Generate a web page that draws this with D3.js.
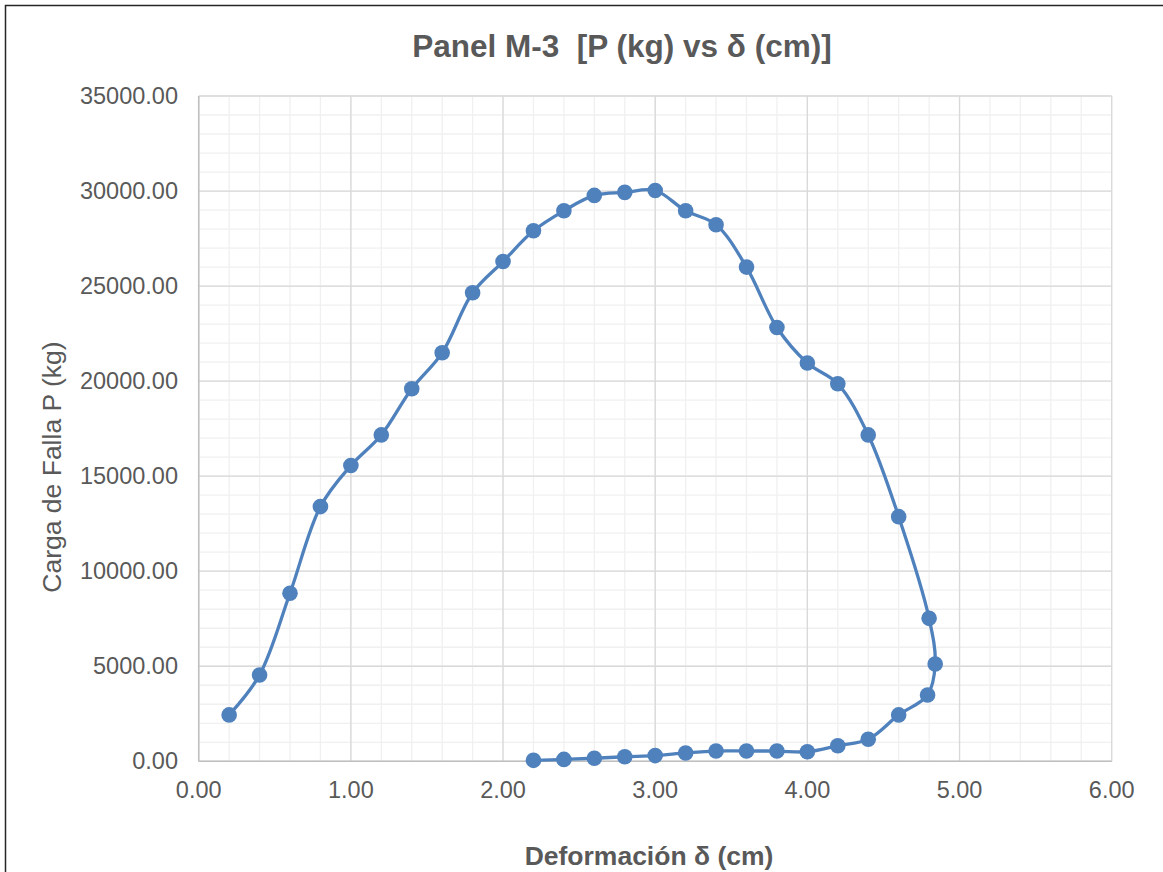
<!DOCTYPE html>
<html>
<head>
<meta charset="utf-8">
<script src="https://cdn.jsdelivr.net/npm/d3@7"></script>
<style>
  body { margin: 0; background: #fff; }
  svg { display: block; font-family: "Liberation Sans", Arial, sans-serif; }
</style>
</head>
<body>
<svg id="chart" width="1163" height="872"></svg>
<script>
// deformation (cm) and load (kg), in the order they were measured
var deformacion = [0.2, 0.4, 0.6, 0.8, 1.0, 1.2, 1.4, 1.6, 1.8, 2.0, 2.2, 2.4, 2.6, 2.8, 3.0,
                   3.2, 3.4, 3.6, 3.8, 4.0, 4.2, 4.4, 4.6, 4.8, 4.84, 4.79, 4.6, 4.4, 4.2, 4.0,
                   3.8, 3.6, 3.4, 3.2, 3.0, 2.8, 2.6, 2.4, 2.2];
var carga = [2440, 4540, 8840, 13400, 15560, 17170, 19600, 21490, 24650, 26290, 27910, 28960, 29770, 29930, 30030,
             28960, 28230, 26000, 22820, 20950, 19860, 17170, 12870, 7520, 5120, 3490, 2440, 1160, 820, 500,
             540, 540, 540, 440, 300, 240, 160, 100, 50];

var xTicks = [0, 1, 2, 3, 4, 5, 6];
var yTicks = [0, 5000, 10000, 15000, 20000, 25000, 30000, 35000];

var svg = d3.select("#chart");
var plotLeft = 198.7, plotRight = 1111.7, plotTop = 96, plotBottom = 761.3;

var x = d3.scaleLinear().domain([0, 6]).range([plotLeft, plotRight]);
var y = d3.scaleLinear().domain([0, 35000]).range([plotBottom, plotTop]);

// outer chart border (only top and left visible)
svg.append("rect")
    .attr("x", 5.5).attr("y", 5.5)
    .attr("width", 1200).attr("height", 900)
    .attr("fill", "none")
    .attr("stroke", "#262626")
    .attr("stroke-width", 1.5);

// minor grid
var g = svg.append("g");
g.selectAll(".mx")
    .data(d3.range(0, 6.001, 0.2))
  .enter().append("line")
    .attr("x1", function(d) { return x(d); })
    .attr("x2", function(d) { return x(d); })
    .attr("y1", plotTop).attr("y2", plotBottom)
    .attr("stroke", "#f0f0f0").attr("stroke-width", 1.3);
g.selectAll(".my")
    .data(d3.range(0, 35001, 1000))
  .enter().append("line")
    .attr("y1", function(d) { return y(d); })
    .attr("y2", function(d) { return y(d); })
    .attr("x1", plotLeft).attr("x2", plotRight)
    .attr("stroke", "#f0f0f0").attr("stroke-width", 1.3);

// major grid
g.selectAll(".Mx")
    .data(xTicks)
  .enter().append("line")
    .attr("x1", function(d) { return x(d); })
    .attr("x2", function(d) { return x(d); })
    .attr("y1", plotTop).attr("y2", plotBottom)
    .attr("stroke", "#d9d9d9").attr("stroke-width", 1.3);
g.selectAll(".My")
    .data(yTicks)
  .enter().append("line")
    .attr("y1", function(d) { return y(d); })
    .attr("y2", function(d) { return y(d); })
    .attr("x1", plotLeft).attr("x2", plotRight)
    .attr("stroke", "#d9d9d9").attr("stroke-width", 1.3);

// axis lines
svg.append("line")
    .attr("x1", plotLeft).attr("x2", plotRight).attr("y1", plotBottom).attr("y2", plotBottom)
    .attr("stroke", "#bfbfbf").attr("stroke-width", 1.5);
svg.append("line")
    .attr("x1", plotLeft).attr("x2", plotLeft).attr("y1", plotTop).attr("y2", plotBottom)
    .attr("stroke", "#bfbfbf").attr("stroke-width", 1.5);

// tick labels
svg.selectAll(".xt")
    .data(xTicks)
  .enter().append("text")
    .attr("x", function(d) { return x(d); })
    .attr("y", 798)
    .attr("text-anchor", "middle")
    .attr("fill", "#595959")
    .style("font-size", "23.5px")
    .text(function(d) { return d.toFixed(2); });

svg.selectAll(".yt")
    .data(yTicks)
  .enter().append("text")
    .attr("x", 178)
    .attr("y", function(d) { return y(d) + 8; })
    .attr("text-anchor", "end")
    .attr("fill", "#595959")
    .style("font-size", "23.5px")
    .text(function(d) { return d.toFixed(2); });

// titles
svg.append("text")
    .attr("x", 622).attr("y", 57)
    .attr("text-anchor", "middle")
    .attr("fill", "#595959")
    .style("font-size", "31.5px")
    .style("font-weight", "bold")
    .style("white-space", "pre")
    .text("Panel M-3  [P (kg) vs δ (cm)]");

svg.append("text")
    .attr("x", 649).attr("y", 865)
    .attr("text-anchor", "middle")
    .attr("fill", "#595959")
    .style("font-size", "26.5px")
    .style("font-weight", "bold")
    .text("Deformación δ (cm)");

svg.append("text")
    .attr("transform", "translate(61,467) rotate(-90)")
    .attr("text-anchor", "middle")
    .attr("fill", "#595959")
    .style("font-size", "26.5px")
    .text("Carga de Falla P (kg)");

// series
var pts = deformacion.map(function(d, i) { return [d, carga[i]]; });

var line = d3.line()
    .x(function(d) { return x(d[0]); })
    .y(function(d) { return y(d[1]); })
    .curve(d3.curveCatmullRom.alpha(0.5));

svg.append("path")
    .datum(pts)
    .attr("d", line)
    .attr("fill", "none")
    .attr("stroke", "#4f81bd")
    .attr("stroke-width", 3.3);

svg.selectAll(".pt")
    .data(pts)
  .enter().append("circle")
    .attr("cx", function(d) { return x(d[0]); })
    .attr("cy", function(d) { return y(d[1]); })
    .attr("r", 7.8)
    .attr("fill", "#4f81bd");
</script>
</body>
</html>
